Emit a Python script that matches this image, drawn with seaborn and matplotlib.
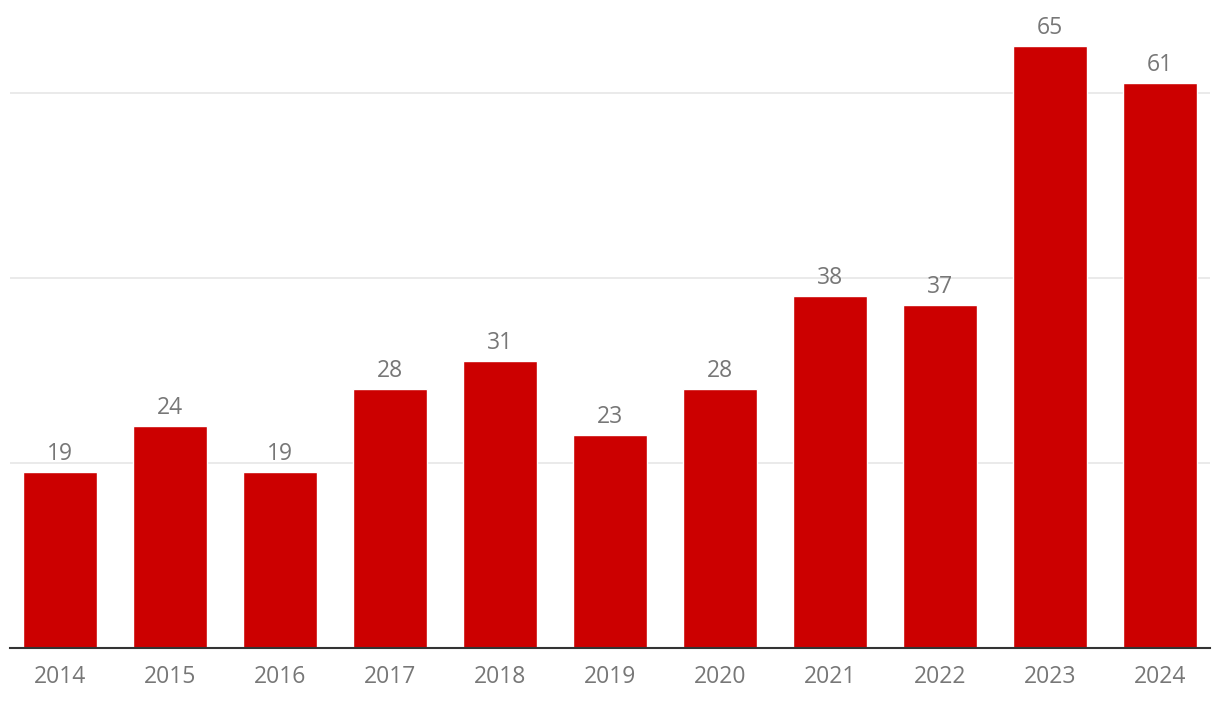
import numpy as np
import pandas as pd
import matplotlib
matplotlib.use("Agg")
import matplotlib.pyplot as plt
import seaborn as sns

years = ["2014", "2015", "2016", "2017", "2018", "2019", "2020", "2021", "2022", "2023", "2024"]
values = [19, 24, 19, 28, 31, 23, 28, 38, 37, 65, 61]

sns.set_style("white")
plt.rcParams['font.family'] = ['Open Sans', 'DejaVu Sans']

df = pd.DataFrame({"year": years, "value": values})

fig = plt.figure(figsize=(12.2, 7.02), dpi=100)
ax = fig.add_axes([10 / 1220, 54 / 702, 1200 / 1220, 648 / 702])

sns.barplot(data=df, x="year", y="value", color="#cc0000", saturation=1,
            width=0.673, ax=ax)

ax.set_ylim(0, 70)
ax.set_xlim(-0.4545, 10.4545)
ax.set_yticks([20, 40, 60])
ax.yaxis.grid(True, color="#e6e6e6", lw=1.2)
ax.set_axisbelow(True)
ax.set_yticklabels([])
ax.tick_params(axis="y", length=0)
ax.tick_params(axis="x", length=0, labelsize=16.5, colors="#777777", pad=12)
ax.set_xlabel("")
ax.set_ylabel("")
for s in ["top", "right", "left"]:
    ax.spines[s].set_visible(False)
ax.spines["bottom"].set_color("#333333")
ax.spines["bottom"].set_linewidth(1.5)

# value labels above the bars
for i, v in enumerate(values):
    ax.annotate(str(v), (i, v), xytext=(0, 4.5), textcoords="offset points",
                ha="center", va="bottom", fontsize=16.5, color="#777777")

fig.savefig("out.png", dpi=100)
